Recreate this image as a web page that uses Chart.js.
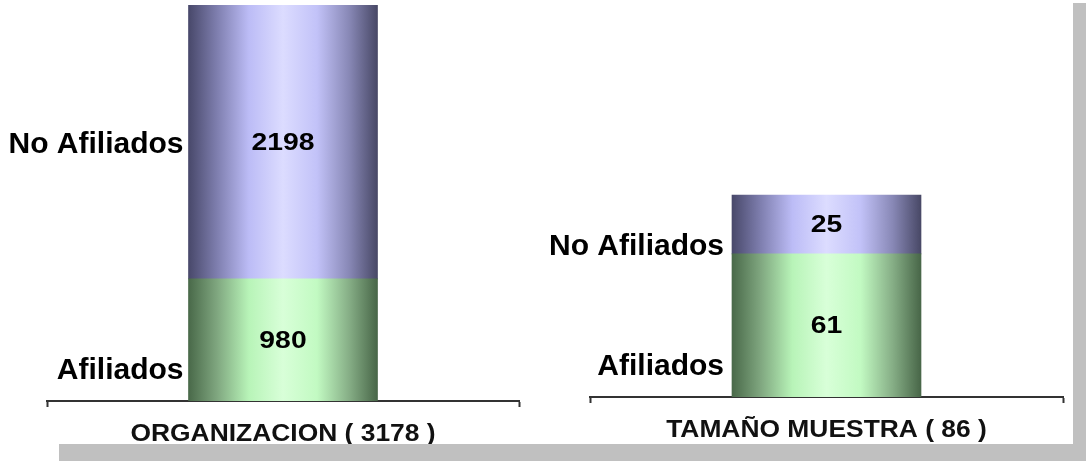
<!DOCTYPE html>
<html>
<head>
<meta charset="utf-8">
<script src="https://cdn.jsdelivr.net/npm/chart.js@4/dist/chart.umd.min.js"></script>
<style>
    html, body { margin: 0; padding: 0; background: #fff; }
    body { width: 1086px; height: 461px; position: relative; overflow: hidden; }
    .panel { position: absolute; top: 0; height: 444px; }
    #orgPanel { left: 0; width: 545px; }
    #muestraPanel { left: 545px; width: 528px; }
    .shadow { position: absolute; background: #c0c0c0; }
    #shadowRight { left: 1073px; top: 3px; width: 13px; height: 458px; }
    #shadowBottom { left: 59px; top: 444px; width: 1027px; height: 17px; }
</style>
</head>
<body>
<div class="panel" id="orgPanel"><canvas id="orgChart"></canvas></div>
<div class="panel" id="muestraPanel"><canvas id="muestraChart"></canvas></div>
<div class="shadow" id="shadowRight"></div>
<div class="shadow" id="shadowBottom"></div>

<script>
// series names (bottom segment first)
const seriesNames = ['Afiliados', 'No Afiliados'];

// left panel: whole organization
const orgCategories = ['ORGANIZACION'];
const orgAfiliados = [980];
const orgNoAfiliados = [2198];

// right panel: sample
const muestraCategories = ['TAMAÑO MUESTRA'];
const muestraAfiliados = [61];
const muestraNoAfiliados = [25];

const FONT = "'Liberation Sans', Arial, sans-serif";

const palette = {
    green: ['#496949', '#7fa67f', '#b8f4b8', '#d8ffd8', '#c2fac2', '#86ae86', '#486648'],
    purple: ['#48486a', '#7e7eae', '#bcbcf6', '#dcdcff', '#c2c2f8', '#8888b6', '#484866']
};

// horizontal cylinder-like shading across each bar
function barGradient(colors) {
    return (context) => {
        const chart = context.chart;
        if (!chart.chartArea) return colors[3];
        const meta = chart.getDatasetMeta(context.datasetIndex);
        const el = meta.data[context.dataIndex];
        const xc = chart.scales.x.getPixelForValue(context.dataIndex);
        const half = (el && el.width ? el.width : 189) / 2;
        const g = chart.ctx.createLinearGradient(xc - half, 0, xc + half, 0);
        const stops = [0, 0.15, 0.32, 0.5, 0.68, 0.85, 1];
        stops.forEach((s, i) => g.addColorStop(s, colors[i]));
        return g;
    };
}

// draws the values inside the segments, the series names beside them
// and the category label with its total under the axis
const barTextPlugin = {
    id: 'barText',
    afterDatasetsDraw(chart, args, opts) {
        const ctx = chart.ctx;
        ctx.save();
        ctx.fillStyle = '#000';
        ctx.textBaseline = 'middle';

        chart.data.datasets.forEach((ds, di) => {
            const meta = chart.getDatasetMeta(di);
            meta.data.forEach((el, i) => {
                const { x, y, base, width } = el.getProps(['x', 'y', 'base', 'width'], true);
                const top = Math.min(y, base);
                const bottom = Math.max(y, base);

                // value
                ctx.save();
                ctx.font = `bold 24px ${FONT}`;
                ctx.textAlign = 'center';
                ctx.translate(x, (top + bottom) / 2);
                ctx.scale(1.18, 1);
                ctx.fillText(String(ds.data[i]), 0, 1);
                ctx.restore();

                // series name on the left side
                ctx.save();
                ctx.font = `bold 30px ${FONT}`;
                ctx.textAlign = 'right';
                ctx.textBaseline = 'alphabetic';
                const anchor = opts.anchors[di];
                let ly;
                if (anchor === 'center') ly = (top + bottom) / 2 + 11;
                else if (anchor === 'segBottom') ly = bottom + 1;
                else ly = bottom - 22;
                ctx.fillText(ds.label, x - width / 2 - opts.gap, ly);
                ctx.restore();
            });
        });

        // category label with total
        const xs = chart.scales.x;
        chart.data.labels.forEach((label, i) => {
            const total = chart.data.datasets.reduce((s, ds) => s + ds.data[i], 0);
            ctx.save();
            ctx.font = `bold 24px ${FONT}`;
            ctx.textAlign = 'center';
            ctx.textBaseline = 'alphabetic';
            ctx.fillStyle = '#111';
            ctx.translate(xs.getPixelForValue(i), xs.bottom + 34);
            ctx.scale(1.1, 1);
            ctx.fillText(`${label} ( ${total} )`, 0, 0);
            ctx.restore();
        });
        ctx.restore();
    }
};

function makePanel(canvasId, categories, afiliados, noAfiliados, yMax, padding, anchors, gap) {
    const ctx = document.getElementById(canvasId).getContext('2d');
    return new Chart(ctx, {
        type: 'bar',
        data: {
            labels: categories,
            datasets: [
                {
                    label: seriesNames[0],
                    data: afiliados,
                    backgroundColor: barGradient(palette.green),
                    borderWidth: 0,
                    barThickness: 189
                },
                {
                    label: seriesNames[1],
                    data: noAfiliados,
                    backgroundColor: barGradient(palette.purple),
                    borderWidth: 0,
                    barThickness: 189
                }
            ]
        },
        options: {
            responsive: true,
            maintainAspectRatio: false,
            animation: false,
            layout: { padding },
            plugins: {
                legend: { display: false },
                tooltip: { enabled: false },
                barText: { anchors, gap }
            },
            scales: {
                x: {
                    stacked: true,
                    grid: {
                        drawOnChartArea: false,
                        drawTicks: true,
                        tickLength: 6,
                        tickWidth: 2,
                        tickColor: '#333'
                    },
                    border: { display: true, color: '#333', width: 2 },
                    ticks: { display: false }
                },
                y: {
                    stacked: true,
                    display: false,
                    min: 0,
                    max: yMax
                }
            }
        },
        plugins: [barTextPlugin]
    });
}

document.addEventListener('DOMContentLoaded', () => {
    makePanel('orgChart', orgCategories, orgAfiliados, orgNoAfiliados, 3178,
        { left: 47, right: 26, top: 5, bottom: 37 }, ['bottom', 'center'], 5);
    makePanel('muestraChart', muestraCategories, muestraAfiliados, muestraNoAfiliados, 167,
        { left: 45, right: 10, top: 5, bottom: 41 }, ['bottom', 'segBottom'], 8);
});
</script>
</body>
</html>
